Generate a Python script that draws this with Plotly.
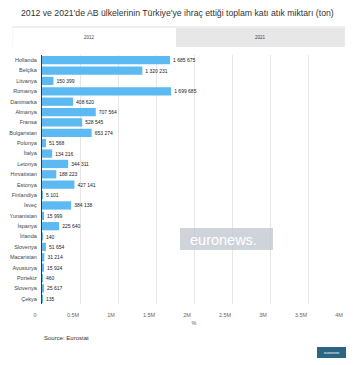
import plotly.graph_objects as go

countries = ["Hollanda", "Belçika", "Litvanya", "Romanya", "Danimarka", "Almanya", "Fransa",
             "Bulgaristan", "Polonya", "İtalya", "Letonya", "Hırvatistan", "Estonya", "Finlandiya",
             "İsveç", "Yunanistan", "İspanya", "İrlanda", "Slovenya", "Macaristan", "Avusturya",
             "Portekiz", "Slovenya", "Çekya"]
values_2012 = [1685675, 1320231, 150399, 1699685, 408620, 707564, 528545,
               653274, 51568, 134216, 344311, 188223, 427141, 5101,
               384138, 15999, 225640, 140, 51654, 31214, 15924,
               460, 25617, 135]
x_ticks = [0, 500000, 1000000, 1500000, 2000000, 2500000, 3000000, 3500000, 4000000]
x_ticktext = ["0", "0.5M", "1M", "1.5M", "2M", "2.5M", "3M", "3.5M", "4M"]

W, H = 355, 365
ML, MR, MT, MB = 42, 9, 55, 61
PW, PH = W - ML - MR, H - MT - MB

def px(x):
    return (x - ML) / PW

def py(y):
    return (H - MB - y) / PH

pos = list(range(len(countries)))
labels = [f"{v:,}".replace(",", " ") for v in values_2012]

fig = go.Figure(go.Bar(
    y=pos, x=values_2012, orientation="h",
    marker=dict(color="#5cb9f1", line=dict(width=0)),
    text=labels, textposition="outside", cliponaxis=False,
    textfont=dict(size=5, color="#222", family="Liberation Sans"),
))

fig.update_layout(
    width=W, height=H,
    margin=dict(l=ML, r=MR, t=MT, b=MB, autoexpand=False),
    paper_bgcolor="white", plot_bgcolor="white",
    showlegend=False, bargap=0.2,
    font=dict(family="Liberation Sans", color="#333"),
    xaxis=dict(range=[0, 4000000], tickvals=x_ticks, ticktext=x_ticktext,
               showgrid=True, gridcolor="#e6e6e6", gridwidth=1, zeroline=False,
               tickfont=dict(size=5.5, color="#666"), ticks="", ticklabelshift=-7,
               ticklabelstandoff=6,
               title=dict(text="%", font=dict(size=5.5, color="#666"), standoff=4),
               fixedrange=True),
    yaxis=dict(tickvals=pos, ticktext=countries, autorange="reversed",
               showgrid=False, zeroline=False, showline=True, linecolor="#1d3e57",
               linewidth=1.2, ticks="", tickfont=dict(size=5.5, color="#444"),
               ticklabelstandoff=3, fixedrange=True),
)

shapes = [
    dict(type="rect", xref="paper", yref="paper", x0=px(12), x1=px(345), y0=py(47), y1=py(26),
         fillcolor="#eeeeee", line=dict(width=0), layer="below"),
    dict(type="rect", xref="paper", yref="paper", x0=px(12.5), x1=px(176), y0=py(47), y1=py(28),
         fillcolor="white", line=dict(width=0), layer="below"),
    dict(type="rect", xref="paper", yref="paper", x0=px(176), x1=px(344.5), y0=py(47), y1=py(28),
         fillcolor="#e7e7e7", line=dict(width=0), layer="below"),
    dict(type="rect", xref="paper", yref="paper", x0=px(180), x1=px(273), y0=py(250), y1=py(228),
         fillcolor="rgba(190,198,205,0.75)", line=dict(width=0), layer="above"),
    dict(type="rect", xref="paper", yref="paper", x0=px(317), x1=px(346), y0=py(358), y1=py(347),
         fillcolor="#2b6583", line=dict(width=0), layer="above"),
]

annotations = [
    dict(text="2012 ve 2021'de AB ülkelerinin Türkiye'ye ihraç ettiği toplam katı atık miktarı (ton)",
         xref="paper", yref="paper", x=px(177.5), y=py(13), showarrow=False,
         font=dict(size=8.7, color="#333", family="Liberation Sans"), xanchor="center", yanchor="middle"),
    dict(text="2012", xref="paper", yref="paper", x=px(89), y=py(37.5), showarrow=False,
         font=dict(size=4.5, color="#444"), xanchor="center", yanchor="middle"),
    dict(text="2021", xref="paper", yref="paper", x=px(260), y=py(37.5), showarrow=False,
         font=dict(size=4.5, color="#444"), xanchor="center", yanchor="middle"),
    dict(text="euronews.", xref="paper", yref="paper", x=px(223), y=py(239.5), showarrow=False,
         font=dict(size=14.5, color="white", family="Liberation Sans"), xanchor="center", yanchor="middle"),
    dict(text="Source: Eurostat", xref="paper", yref="paper", x=px(42), y=py(338), showarrow=False,
         font=dict(size=6, color="#333"), xanchor="left", yanchor="middle"),
    dict(text="euronews", xref="paper", yref="paper", x=px(331.5), y=py(352.5), showarrow=False,
         font=dict(size=3.5, color="white"), xanchor="center", yanchor="middle"),
]

fig.update_layout(shapes=shapes, annotations=annotations)
fig.write_html("out.html", config={"displayModeBar": False},
               post_script="document.body.style.margin='0';document.body.style.padding='0';"
                           "document.documentElement.style.overflow='hidden';")
